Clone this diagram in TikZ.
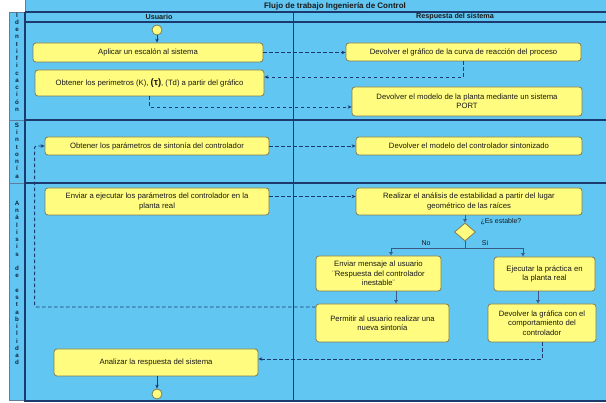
\documentclass[tikz,border=0pt]{standalone}
\usepackage{fontspec}
\setmainfont{Liberation Sans}
\usetikzlibrary{shapes.geometric,arrows.meta,calc}
\definecolor{lanebg}{RGB}{98,198,242}
\definecolor{boxfill}{RGB}{255,252,128}
\definecolor{boxline}{RGB}{130,125,80}
\definecolor{navy}{RGB}{28,58,110}
\definecolor{stripline}{RGB}{95,125,160}
\begin{document}
\begin{tikzpicture}[x=1pt,y=-1pt,
 act/.style={draw=boxline, fill=boxfill, rounded corners=3pt, line width=0.8pt, align=center, inner sep=1pt, font=\fontsize{7.7}{9.5}\selectfont, text=black!90},
 dflow/.style={draw=navy, line width=0.9pt, dash pattern=on 3.5pt off 2.5pt, -{Stealth[length=4pt,width=3.5pt]}},
 sflow/.style={draw=navy, line width=0.9pt, -{Stealth[length=4pt,width=3.5pt]}},
 oflow/.style={draw=navy!85, line width=0.8pt, -{Triangle[open,length=3.5pt,width=3.5pt]}},
 laneline/.style={draw=navy, line width=1.2pt},
 thinline/.style={draw=stripline, line width=0.6pt},
 vlab/.style={align=center, font=\fontsize{6.2}{7.25}\selectfont\bfseries, text=navy!60!black},
 hdr/.style={font=\fontsize{7.2}{8}\selectfont\bfseries, text=black!90},
 lbl/.style={font=\fontsize{7}{8}\selectfont, text=black!90},
 endpt/.style={circle, draw=boxline, fill=boxfill, line width=0.8pt, minimum size=10pt, inner sep=0pt},
 ]
\useasboundingbox (0,0) rectangle (606,403);
\fill[white] (0,0) rectangle (606,403);
% backgrounds
\fill[lanebg] (25,0) rectangle (606,401);
\fill[lanebg] (9,12) rectangle (25,400);
\draw[thinline] (25,0) -- (25,12);
\draw[thinline] (9,12) rectangle (25,400);
\draw[thinline] (9,120) -- (25,120);
\draw[thinline] (9,183) -- (25,183);
% lane lines
\draw[laneline] (25,12) -- (606,12);
\draw[laneline] (25,22) -- (606,22);
\draw[laneline] (25,120) -- (606,120);
\draw[laneline] (25,183) -- (606,183);
\draw[laneline] (25,12) -- (25,401) -- (606,401);
\draw[navy, line width=0.6pt] (293,12) -- (293,401);
% headings
\node[font=\fontsize{8}{9}\selectfont\bfseries, text=black!90] (title) at (335,6) {Flujo de trabajo Ingeniería de Control};
\node[hdr] (husr) at (159,17) {Usuario};
\node[hdr] (hsys) at (455,17) {Respuesta del sistema};
\node[vlab] (lab1) at (17,62) {I\\d\\e\\n\\t\\i\\f\\i\\c\\a\\c\\i\\ó\\n};
\node[vlab] (lab2) at (17,150.5) {S\\i\\n\\t\\o\\n\\í\\a};
\node[vlab] (lab3) at (17,283) {A\\n\\á\\l\\i\\s\\i\\s\\~\\d\\e\\~\\e\\s\\t\\a\\b\\i\\l\\i\\d\\a\\d};
% nodes
\node[endpt] (start) at (157,30) {};
\node[act, minimum width=230, minimum height=19] (aplicar) at (148,52.5) {Aplicar un escalón al sistema};
\node[act, minimum width=229, minimum height=26] (obtener) at (149.5,83) {Obtener los perimetros (K), {\fontsize{9.5}{9.5}\selectfont\bfseries(τ)}, (Td) a partir del gráfico};
\node[act, minimum width=235, minimum height=18] (devgraf) at (463.5,52) {Devolver el gráfico de la curva de reacción del proceso};
\node[act, minimum width=230, minimum height=29] (devmod) at (467,101.5) {Devolver el modelo de la planta mediante un sistema\\PORT};
\node[act, minimum width=224, minimum height=18] (obtpar) at (157,146) {Obtener los parámetros de sintonía del controlador};
\node[act, minimum width=226, minimum height=18] (devctrl) at (469,146) {Devolver el modelo del controlador sintonizado};
\node[act, minimum width=224, minimum height=27] (enviar) at (157,201.5) {Enviar a ejecutar los parámetros del controlador en la\\planta real};
\node[act, minimum width=226, minimum height=27] (realizar) at (469,201.5) {Realizar el análisis de estabilidad a partir del lugar\\geométrico de las raíces};
\node[diamond, draw=boxline, fill=boxfill, line width=0.8pt, minimum width=21, minimum height=18, inner sep=0pt] (dec) at (465,232) {};
\node[lbl, anchor=west] (qlab) at (477,222) {¿Es estable?};
\node[act, minimum width=125, minimum height=35] (mensaje) at (378.5,273.5) {Enviar mensaje al usuario\\¨Respuesta del controlador\\inestable¨};
\node[act, minimum width=101, minimum height=34] (ejecutar) at (544.5,274) {Ejecutar la práctica en\\la planta real};
\node[act, minimum width=133, minimum height=38] (permitir) at (382.5,323) {Permitir al usuario realizar una\\nueva sintonía};
\node[act, minimum width=108, minimum height=38] (devgrafica) at (542,323) {Devolver la gráfica con el\\comportamiento del\\controlador};
\node[act, minimum width=204, minimum height=27] (analizar) at (156,362.5) {Analizar la respuesta del sistema};
\node[endpt] (fin) at (157,394) {};
% connectors
\draw[sflow] (start) -- (start |- aplicar.north);
\draw[dflow] (aplicar.east) -- (devgraf.west |- aplicar.east);
\draw[dflow] (devgraf.south) |- ($(obtener.east)+(0,-6)$);
\draw[dflow] (obtener.south) |- ($(devmod.west)+(0,5.5)$);
\draw[dflow] (obtpar.east) -- (devctrl.west);
\draw[dflow] ($(enviar.east)+(0,-5)$) -- ($(realizar.west)+(0,-5)$);
\draw[oflow] (dec.north |- realizar.south) -- (dec.north);
\coordinate (br) at ($(dec.south)+(0,7)$);
\draw[navy!85, line width=0.8pt] (dec.south) -- (br);
\draw[oflow] (br) -| ($(mensaje.north)+(12.5,0)$);
\draw[oflow] (br) -| ($(ejecutar.north)+(-21.5,0)$);
\node[lbl] (nolab) at (426,243) {No};
\node[lbl] (silab) at (485,243) {Si};
\coordinate (m1) at ($(mensaje.south)+(17.5,0)$);
\draw[oflow] (m1) -- (m1 |- permitir.north);
\coordinate (e1) at ($(ejecutar.south)+(-6.5,0)$);
\draw[oflow] (e1) -- (e1 |- devgrafica.north);
\draw[dflow, rounded corners=2pt] ($(permitir.west)+(0,-16)$) -| ($(obtpar.west)+(-10,0)$) -- (obtpar.west);
\draw[dflow] (devgrafica.south) |- ($(analizar.east)+(0,-3.5)$);
\draw[sflow] (fin |- analizar.south) -- (fin.north);
\end{tikzpicture}
\end{document}
